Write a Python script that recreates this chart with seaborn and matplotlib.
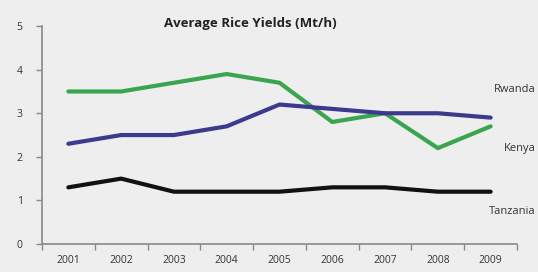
import matplotlib
matplotlib.use("Agg")
import matplotlib.pyplot as plt
import pandas as pd
import seaborn as sns

# ─── Data ────────────────────────────────────────────────────────────────────
years    = ["2001", "2002", "2003", "2004", "2005", "2006", "2007", "2008", "2009"]
green    = [3.5, 3.5, 3.7, 3.9, 3.7, 2.8, 3.0, 2.2, 2.7]
blue     = [2.3, 2.5, 2.5, 2.7, 3.2, 3.1, 3.0, 3.0, 2.9]
black    = [1.3, 1.5, 1.2, 1.2, 1.2, 1.3, 1.3, 1.2, 1.2]
labels   = ["Rwanda", "Kenya", "Tanzania"]
label_y  = [3.55, 2.2, 0.75]

BG = "#eeeeee"
COLORS = {"green": "#3aa54f", "blue": "#3b3a8e", "black": "#111111"}

df = pd.DataFrame({
    "x": list(range(len(years))) * 3,
    "y": green + blue + black,
    "s": ["green"] * 9 + ["blue"] * 9 + ["black"] * 9,
})

sns.set_theme(style="white")
plt.rcParams["font.family"] = ["Open Sans", "DejaVu Sans"]

fig = plt.figure(figsize=(5.38, 2.72), dpi=100, facecolor=BG)
ax = fig.add_axes([0.078, 0.103, 0.883, 0.801])
ax.set_facecolor(BG)

sns.lineplot(data=df, x="x", y="y", hue="s", palette=COLORS,
             linewidth=3.0, legend=False, ax=ax)

ax.set_xlim(-0.5, 8.5)
ax.set_ylim(0, 5)
ax.set_xticks(range(len(years)))
ax.set_xticklabels(years)
ax.set_xticks([i - 0.5 for i in range(len(years) + 1)], minor=True)
ax.set_yticks(range(6))
ax.tick_params(axis="x", which="major", length=0, labelsize=7.5, colors="#333333", pad=8)
ax.tick_params(axis="x", which="minor", length=4, width=1, color="#888888",
               direction="out", bottom=True)
ax.tick_params(axis="y", length=4, width=1, color="#888888", direction="out",
               labelsize=7.5, colors="#333333", left=True, pad=10)
ax.set_xlabel("")
ax.set_ylabel("")
for s in ["top", "right"]:
    ax.spines[s].set_visible(False)
for s in ["left", "bottom"]:
    ax.spines[s].set_color("#888888")
    ax.spines[s].set_linewidth(1.2)

fig.text(250 / 538, 1 - 24 / 272, "Average Rice Yields (Mt/h)", fontsize=9.5,
         fontweight="bold", color="#222222", ha="center", va="center")

for lab, ly in zip(labels, label_y):
    ax.text(8.85, ly, lab, ha="right", va="center", fontsize=8,
            color="#333333", clip_on=False)

fig.savefig("out.png", dpi=100, facecolor=BG)
